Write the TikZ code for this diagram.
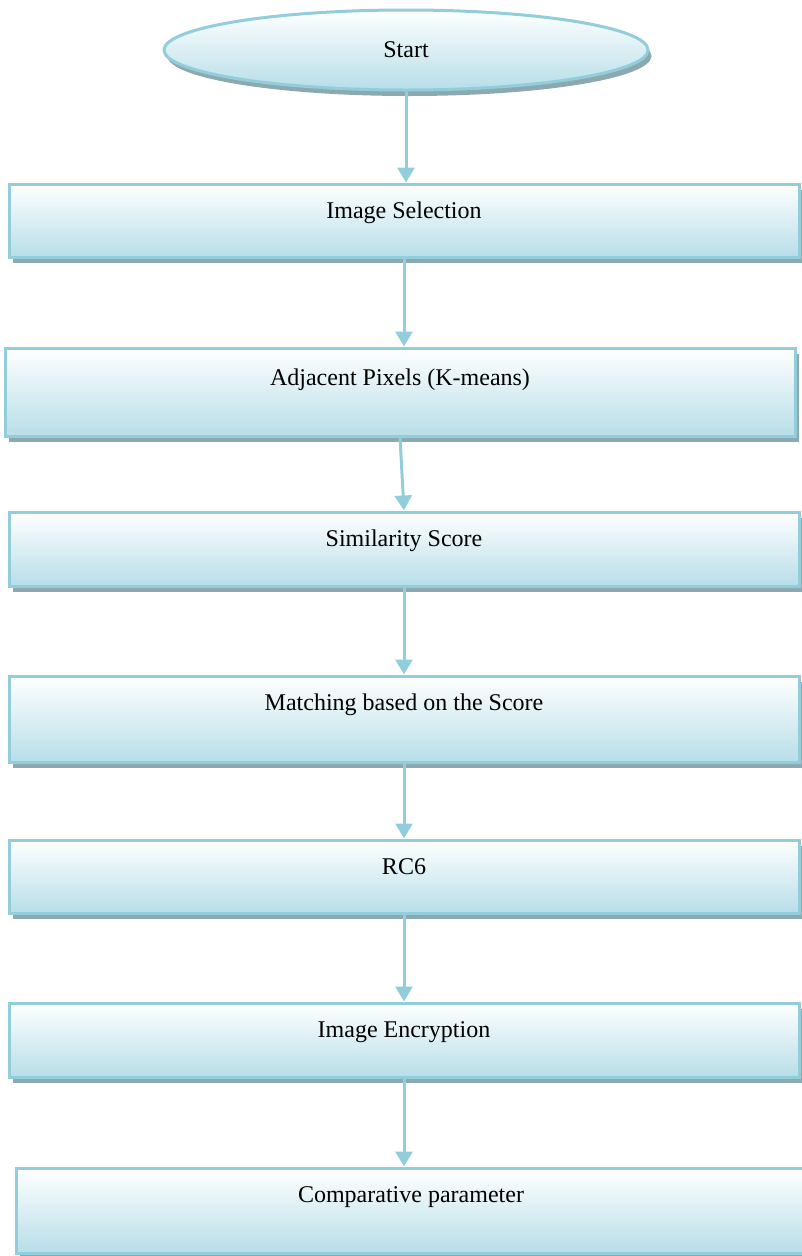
\documentclass[tikz,border=0pt]{standalone}
\usepackage{fontspec}
\setmainfont{Liberation Serif}
\usepackage{xcolor}
\usepackage{tikz}
\usetikzlibrary{shapes.geometric,shadows,arrows.meta}
\definecolor{rimblue}{RGB}{146,205,220}
\definecolor{fillblue}{RGB}{183,222,232}
\definecolor{shadowgray}{RGB}{140,168,176}

\begin{document}
\begin{tikzpicture}[x=1pt, y=-1pt, font=\fontsize{24}{28}\selectfont,
  boxshadow/.style={drop shadow={shadow xshift=3.5pt, shadow yshift=-6pt, fill=shadowgray, opacity=1}},
  procbox/.style={rectangle, draw=rimblue, line width=3pt, top color=white, middle color=fillblue!55, bottom color=fillblue, minimum width=790pt, inner xsep=0pt, inner ysep=0pt, text height=34pt, boxshadow},
  startshape/.style={ellipse, draw=rimblue, line width=3pt, top color=white, middle color=fillblue!55, bottom color=fillblue, minimum width=484pt, minimum height=80pt, inner sep=0pt, boxshadow},
  flowarrow/.style={draw=rimblue, line width=3pt, -{Triangle[width=17pt,length=15pt]}}]
\useasboundingbox (0,0) rectangle (801,1256);
\node[startshape] (start) at (406,50) {Start};
\node[procbox, text depth=39pt] (imgsel) at (404,220.5) {Image Selection};
\node[procbox, text height=37pt, text depth=51pt] (adjpix) at (400,392) {Adjacent Pixels (K-means)};
\node[procbox, text depth=40pt] (simscore) at (404,549) {Similarity Score};
\node[procbox, text depth=52pt] (matching) at (404,719) {Matching based on the Score};
\node[procbox, text depth=39pt] (rcsix) at (404,876.5) {RC6};
\node[procbox, text depth=40pt] (encrypt) at (404,1040) {Image Encryption};
\node[procbox, text depth=51pt] (compare) at (411,1210.5) {Comparative parameter};
\draw[flowarrow] (start.south) -- (start.south |- imgsel.north);
\draw[flowarrow] (imgsel.south) -- (imgsel.south |- adjpix.north);
\draw[flowarrow] (adjpix.south) -- (simscore.north);
\draw[flowarrow] (simscore.south) -- (matching.north);
\draw[flowarrow] (matching.south) -- (rcsix.north);
\draw[flowarrow] (rcsix.south) -- (encrypt.north);
\draw[flowarrow] (encrypt.south) -- (encrypt.south |- compare.north);
\end{tikzpicture}
\end{document}
